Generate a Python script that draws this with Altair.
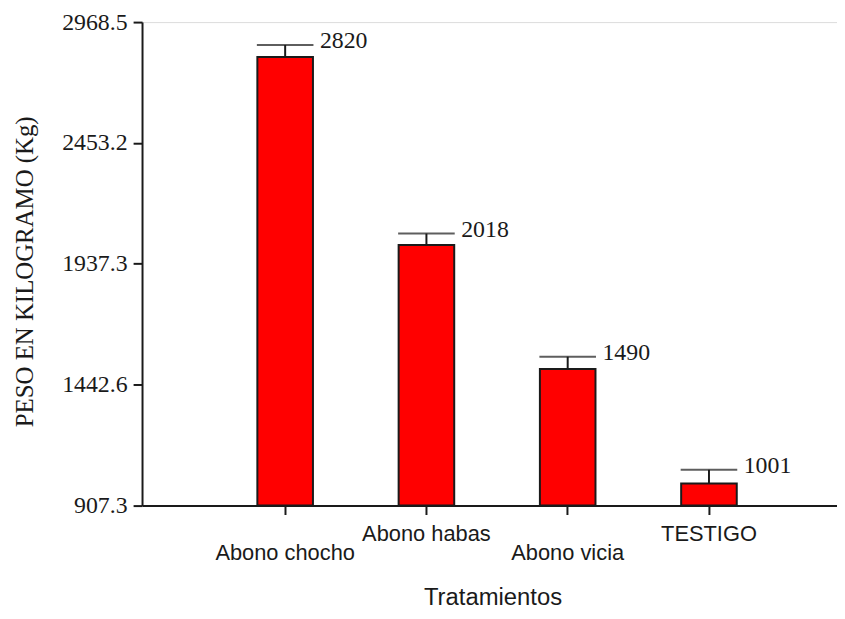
import altair as alt
import pandas as pd

tratamientos = ["Abono chocho", "Abono habas", "Abono vicia", "TESTIGO"]
peso = [2820, 2018, 1490, 1001]
error = [51, 49, 52, 59]
etiquetas = ["2820", "2018", "1490", "1001"]

y_ticks = [907.3, 1422.6, 1937.9, 2453.2, 2968.5]
y_tick_labels = ["907.3", "1442.6", "1937.3", "2453.2", "2968.5"]

df = pd.DataFrame({
    "trat": tratamientos,
    "peso": peso,
    "err": error,
    "lbl": etiquetas,
})
df["top"] = df["peso"] + df["err"]

label_map = "{" + ",".join(f"'{v}':'{l}'" for v, l in zip(y_ticks, y_tick_labels)) + "}"
label_expr = f"({label_map})[toString(datum.value)] || datum.label"

x_scale = alt.Scale(paddingInner=0.6065, paddingOuter=0.763, align=0.535)
y_scale = alt.Scale(domain=[907.3, 2968.5], nice=False, zero=False)

AX = "#1a1a1a"

x_enc = alt.X(
    "trat:N",
    sort=tratamientos,
    scale=x_scale,
    axis=alt.Axis(
        title="Tratamientos",
        titleFont="Liberation Sans",
        titleFontSize=24,
        titleFontWeight="normal",
        titleColor=AX,
        titleX=353,
        titleY=100,
        titleBaseline="alphabetic",
        titleAnchor="start",
        titleAlign="center",
        labelFont="Liberation Sans",
        labelFontSize=22,
        labelColor=AX,
        labelAngle=0,
        labelBaseline="top",
        labelPadding={"condition": {"test": "datum.value == 'Abono habas' || datum.value == 'TESTIGO'", "value": 9}, "value": 28},
        tickSize=9,
        tickWidth=2,
        tickColor=AX,
        domainColor=AX,
        domainWidth=2,
        grid=False,
    ),
)

y_enc = alt.Y(
    "peso:Q",
    scale=y_scale,
    axis=alt.Axis(
        title="PESO EN KILOGRAMO (Kg)",
        titleFont="Liberation Serif",
        titleFontSize=25,
        titleFontWeight="normal",
        titleColor=AX,
        titleAngle=-90,
        titleX=-130,
        titleY=251,
        titleAlign="center",
        titleBaseline="top",
        values=y_ticks,
        labelExpr=label_expr,
        labelFont="Liberation Serif",
        labelFontSize=24,
        labelColor=AX,
        labelPadding=6,
        tickSize=9,
        tickWidth=2,
        tickColor=AX,
        domainColor=AX,
        domainWidth=2,
        grid=False,
    ),
)

base = alt.Chart(df)

bars = base.mark_bar(color="#ff0000", stroke=AX, strokeWidth=2).encode(
    x=x_enc,
    y=y_enc,
    y2=alt.datum(907.3),
)

rules = base.mark_rule(color=AX, strokeWidth=2).encode(
    x=alt.X("trat:N", sort=tratamientos, scale=x_scale),
    y=alt.Y("peso:Q", scale=y_scale),
    y2="top:Q",
)

caps = base.mark_tick(color=AX, thickness=2, size=57, orient="horizontal").encode(
    x=alt.X("trat:N", sort=tratamientos, scale=x_scale),
    y=alt.Y("top:Q", scale=y_scale),
)

texts = base.mark_text(
    align="left", baseline="alphabetic", dx=35, dy=3,
    font="Liberation Serif", fontSize=24, color=AX,
).encode(
    x=alt.X("trat:N", sort=tratamientos, scale=x_scale),
    y=alt.Y("top:Q", scale=y_scale),
    text="lbl:N",
)

chart = alt.layer(bars, rules, caps, texts).properties(
    width=700,
    height=487,
    autosize=alt.AutoSizeParams(type="none"),
    padding={"left": 135, "top": 12, "right": 0, "bottom": 108},
).configure_view(stroke=None).configure(background="white")

chart.save("out.html", embed_options={"renderer": "svg", "actions": False})
